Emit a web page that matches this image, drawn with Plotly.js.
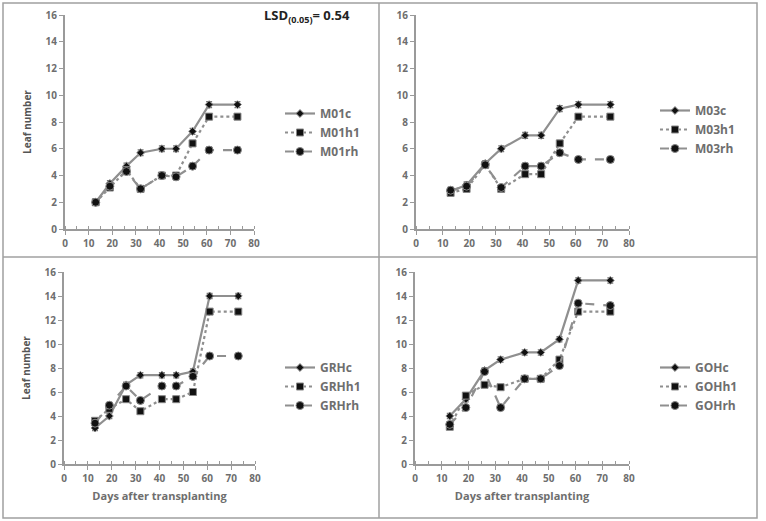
<!DOCTYPE html>
<html>
<head>
<meta charset="utf-8">
<script src="https://cdn.plot.ly/plotly-3.0.1.min.js"></script>
<style>
  html, body { margin: 0; padding: 0; background: #fff; }
  #chart { width: 766px; height: 521px; }
</style>
</head>
<body>
<div id="chart"></div>
<script>
// Sampling days (days after transplanting)
const days = [13, 19, 26, 32, 41, 47, 54, 61, 73];

// Leaf number per variety and treatment
const M01c  = [2.0, 3.4, 4.7, 5.7, 6.0, 6.0, 7.3, 9.3, 9.3];
const M01h1 = [2.0, 3.1, 4.4, 3.0, 4.0, 4.0, 6.4, 8.4, 8.4];
const M01rh = [2.0, 3.2, 4.3, 3.0, 4.0, 3.9, 4.7, 5.9, 5.9];

const M03c  = [2.8, 3.3, 4.9, 6.0, 7.0, 7.0, 9.0, 9.3, 9.3];
const M03h1 = [2.7, 3.0, 4.8, 3.0, 4.1, 4.1, 6.4, 8.4, 8.4];
const M03rh = [2.9, 3.2, 4.8, 3.1, 4.7, 4.7, 5.7, 5.2, 5.2];

const GRHc  = [3.0, 4.0, 6.6, 7.4, 7.4, 7.4, 7.7, 14.0, 14.0];
const GRHh1 = [3.6, 4.6, 5.4, 4.4, 5.4, 5.4, 6.0, 12.7, 12.7];
const GRHrh = [3.4, 4.9, 6.5, 5.3, 6.5, 6.5, 7.3, 9.0, 9.0];

const GOHc  = [4.0, 5.4, 7.8, 8.7, 9.3, 9.3, 10.4, 15.3, 15.3];
const GOHh1 = [3.1, 5.7, 6.6, 6.4, 7.1, 7.1, 8.7, 12.7, 12.7];
const GOHrh = [3.3, 4.7, 7.7, 4.7, 7.1, 7.1, 8.2, 13.4, 13.2];

const names = [
  ['M01c', 'M01h1', 'M01rh'],
  ['M03c', 'M03h1', 'M03rh'],
  ['GRHc', 'GRHh1', 'GRHrh'],
  ['GOHc', 'GOHh1', 'GOHrh']
];
const values = [
  [M01c, M01h1, M01rh],
  [M03c, M03h1, M03rh],
  [GRHc, GRHh1, GRHrh],
  [GOHc, GOHh1, GOHrh]
];

const W = 766, H = 521;
const px = v => v / W;
const py = v => (H - v) / H;

// Plot areas in pixels: [x0, x80, yTop(16), yBottom(0)]
const boxes = [
  [65, 254, 15, 229],
  [416, 629, 15, 229],
  [64, 255, 272, 464],
  [415, 629, 272, 464]
];

const lineColor = '#8f8f8f';
const textColor = '#6e6e6e';
const dashes = ['solid', 'dot', 'dash'];
const symbols = ['diamond', 'square', 'circle'];
const sizes = [6, 7, 8];

const traces = [];
values.forEach((group, p) => {
  group.forEach((ys, s) => {
    traces.push({
      type: 'scatter',
      mode: 'lines+markers',
      x: days,
      y: ys,
      name: names[p][s],
      xaxis: p === 0 ? 'x' : 'x' + (p + 1),
      yaxis: p === 0 ? 'y' : 'y' + (p + 1),
      legend: p === 0 ? 'legend' : 'legend' + (p + 1),
      line: { color: lineColor, width: 2.2, dash: dashes[s] },
      marker: { symbol: symbols[s], size: sizes[s], color: '#111', line: { color: '#888', width: 1 } },
      error_y: { type: 'constant', value: 0.22, width: 3, thickness: 1.2, color: '#777' },
      cliponaxis: false
    });
  });
});

const tickFont = { family: 'Open Sans, Liberation Sans, sans-serif', size: 10, color: textColor, weight: 'bold' };
const layout = {
  width: W, height: H,
  margin: { l: 0, r: 0, t: 0, b: 0 },
  paper_bgcolor: '#fff',
  plot_bgcolor: 'rgba(0,0,0,0)',
  showlegend: true,
  annotations: [],
  shapes: []
};

boxes.forEach((b, i) => {
  const sfx = i === 0 ? '' : String(i + 1);
  const xa = {
    domain: [px(b[0]), px(b[1])],
    anchor: 'y' + sfx,
    range: [0, 80],
    dtick: 10,
    showgrid: false,
    zeroline: false,
    showline: true,
    linecolor: '#9a9a9a',
    linewidth: 2,
    ticks: 'outside',
    ticklen: 4,
    tickcolor: '#9a9a9a',
    minor: { dtick: 5, ticks: 'inside', ticklen: 3, tickcolor: '#9a9a9a', showgrid: false },
    tickfont: tickFont,
    fixedrange: true
  };
  if (i >= 2) {
    xa.title = { text: 'Days after transplanting', font: { family: 'Open Sans, sans-serif', size: 11, color: textColor, weight: 'bold' }, standoff: 8 };
  }
  const ya = {
    domain: [py(b[3]), py(b[2])],
    anchor: 'x' + sfx,
    range: [0, 16],
    dtick: 2,
    showgrid: false,
    zeroline: false,
    showline: true,
    linecolor: '#9a9a9a',
    linewidth: 2,
    ticks: 'outside',
    ticklen: 4,
    tickcolor: '#9a9a9a',
    tickfont: tickFont,
    fixedrange: true
  };
  if (i % 2 === 0) {
    ya.title = { text: 'Leaf number', font: { family: 'Open Sans, sans-serif', size: 10, color: '#555', weight: 'bold' }, standoff: 12 };
  }
  layout['xaxis' + sfx] = xa;
  layout['yaxis' + sfx] = ya;
});

// Legend blocks, one per panel
const legendPos = [[280, 99], [655, 96], [280, 353], [655, 353]];
legendPos.forEach((lp, i) => {
  const key = i === 0 ? 'legend' : 'legend' + (i + 1);
  layout[key] = {
    x: px(lp[0]), y: py(lp[1]),
    xanchor: 'left', yanchor: 'top',
    bgcolor: 'rgba(0,0,0,0)',
    borderwidth: 0,
    font: { family: 'Open Sans, sans-serif', size: 12, color: textColor, weight: 'bold' },
    itemwidth: 30,
    tracegroupgap: 0
  };
});

// Statistic label in the first panel
layout.annotations.push({
  xref: 'paper', yref: 'paper',
  x: px(262), y: py(16),
  xanchor: 'left', yanchor: 'middle',
  text: 'LSD<sub>(0.05)</sub>= 0.54',
  showarrow: false,
  font: { family: 'Open Sans, sans-serif', size: 13, color: '#222', weight: 'bold' }
});

// Panel frame
const frame = { color: '#a0a0a0', width: 1.5 };
layout.shapes.push(
  { type: 'rect', xref: 'paper', yref: 'paper', x0: px(3), x1: px(757), y0: py(518), y1: py(3), line: frame },
  { type: 'line', xref: 'paper', yref: 'paper', x0: px(379), x1: px(379), y0: py(518), y1: py(3), line: frame },
  { type: 'line', xref: 'paper', yref: 'paper', x0: px(3), x1: px(757), y0: py(257), y1: py(257), line: frame }
);

Plotly.newPlot('chart', traces, layout, { displayModeBar: false, staticPlot: true });
</script>
</body>
</html>
